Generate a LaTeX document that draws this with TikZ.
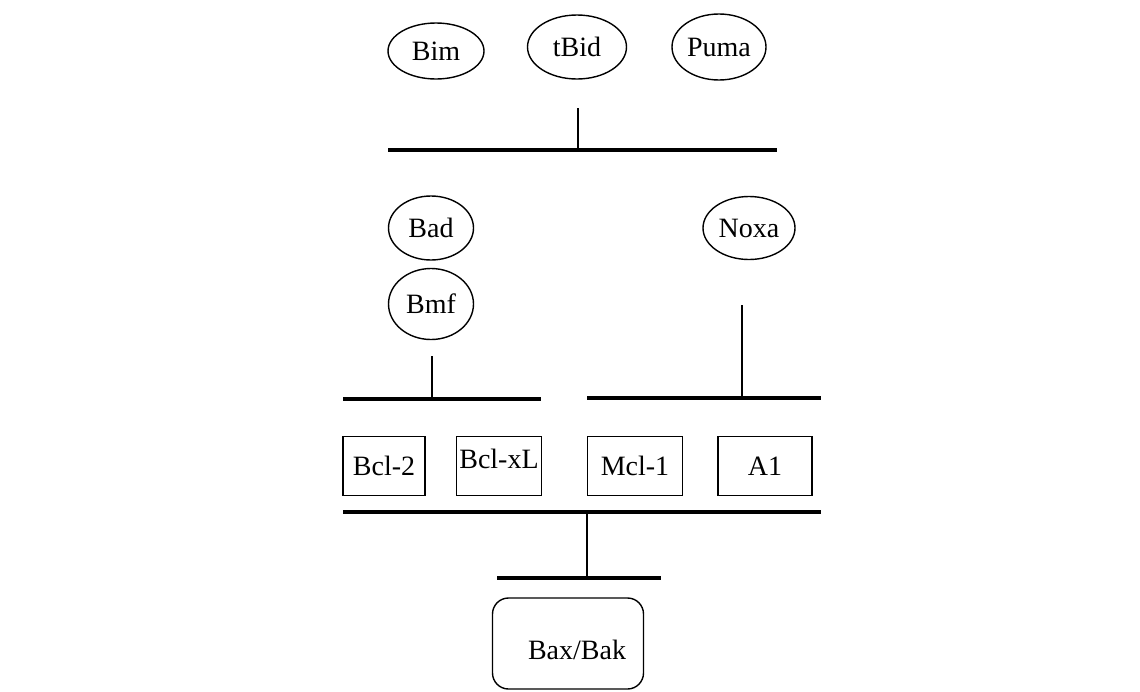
\documentclass[tikz,border=0pt]{standalone}
\usepackage{fontspec}
\setmainfont{Liberation Serif}
\usetikzlibrary{shapes.geometric}
\begin{document}
\begin{tikzpicture}[x=1pt,y=-1pt,
  oval/.style={draw,ellipse,line width=1.4pt,inner sep=0pt,outer sep=0pt,font=\fontsize{28}{32}\selectfont},
  prot/.style={draw,rectangle,line width=1.4pt,inner sep=0pt,outer sep=0pt,minimum height=59pt,font=\fontsize{28}{32}\selectfont},
  bar/.style={line width=3.2pt},
  tick/.style={line width=2.8pt}]
\useasboundingbox (0,0) rectangle (1140,691);
\fill[white] (0,0) rectangle (1140,691);
% top ligands
\node[oval,minimum width=96pt,minimum height=56pt] (bim) at (436,51) {Bim};
\node[oval,minimum width=99pt,minimum height=64pt] (tbid) at (577,47) {tBid};
\node[oval,minimum width=94pt,minimum height=66pt] (puma) at (719,47) {Puma};
\coordinate (topL) at (388,150);
\coordinate (topR) at (777,150);
\coordinate (topJ) at (578,150);
\coordinate (topT) at (578,108);
\draw[bar] (topL) -- (topR);
\draw[tick] (topT) -- (topJ);
% middle ligands
\node[oval,minimum width=85pt,minimum height=64pt] (bad) at (431,228) {Bad};
\node[oval,minimum width=85pt,minimum height=71pt] (bmf) at (431,304) {Bmf};
\node[oval,minimum width=92pt,minimum height=63pt] (noxa) at (749,228) {Noxa};
\coordinate (lbL) at (343,399);
\coordinate (lbR) at (541,399);
\coordinate (lbJ) at (432,399);
\coordinate (lbT) at (432,356);
\draw[bar] (lbL) -- (lbR);
\draw[tick] (lbT) -- (lbJ);
\coordinate (rbL) at (587,398);
\coordinate (rbR) at (821,398);
\coordinate (rbJ) at (742,398);
\coordinate (rbT) at (742,305);
\draw[bar] (rbL) -- (rbR);
\draw[tick] (rbT) -- (rbJ);
% anti-apoptotic proteins
\node[prot,minimum width=82pt] (bcl2) at (384,466) {Bcl-2};
\node[prot,minimum width=85pt,text depth=14pt] (bclxl) at (499,466) {Bcl-xL};
\node[prot,minimum width=95pt] (mcl1) at (635,466) {Mcl-1};
\node[prot,minimum width=94pt] (a1) at (765,466) {A1};
\coordinate (pbL) at (343,512);
\coordinate (pbR) at (821,512);
\coordinate (pbJ) at (587,512);
\coordinate (pbB) at (587,578);
\draw[bar] (pbL) -- (pbR);
\draw[tick] (pbJ) -- (pbB);
\coordinate (bbL) at (497,578);
\coordinate (bbR) at (661,578);
\draw[bar] (bbL) -- (bbR);
% Bax/Bak
\node[draw,rectangle,rounded corners=16pt,line width=1.4pt,minimum width=151pt,minimum height=91pt,inner sep=0pt] (bax) at (568,643.5) {};
\node[inner sep=0pt,font=\fontsize{28}{32}\selectfont] (baxtxt) at (577,650) {Bax/Bak};
\end{tikzpicture}
\end{document}
